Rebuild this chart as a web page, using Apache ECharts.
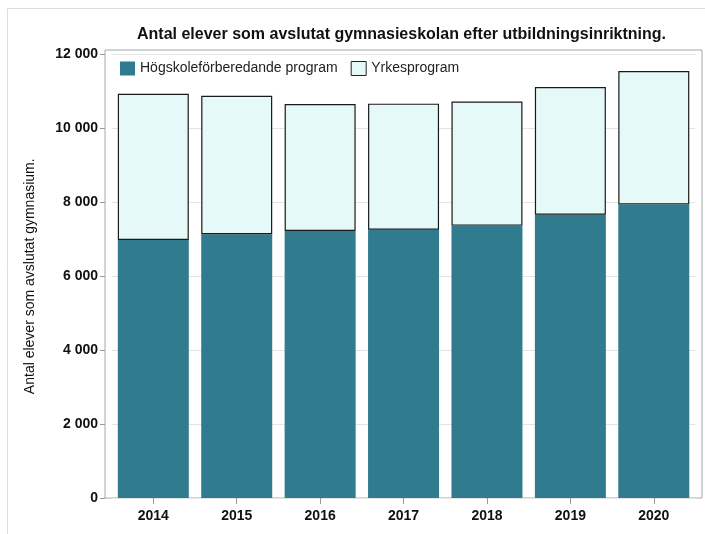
<!DOCTYPE html>
<html>
<head>
<meta charset="utf-8">
<script src="https://cdn.jsdelivr.net/npm/echarts@6/dist/echarts.min.js"></script>
<style>
  html, body { margin: 0; padding: 0; background: #fff; }
  #chart { width: 705px; height: 534px; }
</style>
</head>
<body>
<div id="chart"></div>
<script>
// Elever som avslutat gymnasiet, per år och inriktning
const years = ['2014', '2015', '2016', '2017', '2018', '2019', '2020'];
const hogskole = [6980, 7135, 7225, 7260, 7370, 7665, 7945];
const yrkes = [3960, 3750, 3435, 3410, 3355, 3455, 3610];

const FONT = '"Liberation Sans", Arial, sans-serif';
const fmt = v => String(v).replace(/\B(?=(\d{3})+(?!\d))/g, ' ');

const chart = echarts.init(document.getElementById('chart'));
chart.setOption({
  backgroundColor: '#fff',
  animation: false,
  textStyle: { fontFamily: FONT },
  title: {
    text: 'Antal elever som avslutat gymnasieskolan efter utbildningsinriktning.',
    left: 132, top: 22,
    textStyle: { fontFamily: FONT, fontSize: 16, fontWeight: 'bold', color: '#111' }
  },
  legend: {
    left: 115, top: 56,
    itemWidth: 15, itemHeight: 14, itemGap: 13,
    textStyle: { fontFamily: FONT, fontSize: 14, color: '#222' },
    data: [
      { name: 'Högskoleförberedande program', icon: 'rect' },
      { name: 'Yrkesprogram', icon: 'rect', itemStyle: { borderColor: '#222', borderWidth: 1 } }
    ]
  },
  grid: { left: 111.6, right: 9.5, top: 54.5, bottom: 36 },
  graphic: [
    // ram runt ritytan
    { type: 'rect', z: -1, shape: { x: 105, y: 50, width: 597, height: 448 },
      style: { fill: 'none', stroke: '#a8a8a8', lineWidth: 1 } },
    { type: 'line', shape: { x1: 7.5, y1: 8.5, x2: 705, y2: 8.5 }, style: { stroke: '#ddd', lineWidth: 1 } },
    { type: 'line', shape: { x1: 7.5, y1: 8.5, x2: 7.5, y2: 534 }, style: { stroke: '#ddd', lineWidth: 1 } }
  ],
  xAxis: {
    type: 'category',
    data: years,
    axisLine: { show: false },
    axisTick: { show: true, alignWithLabel: true, length: 6, lineStyle: { color: '#999' } },
    axisLabel: { fontFamily: FONT, fontSize: 14, fontWeight: 'bold', color: '#111', margin: 11 }
  },
  yAxis: {
    type: 'value',
    min: 0, max: 12000, interval: 2000,
    offset: 6.6,
    name: 'Antal elever som avslutat gymnasium.',
    nameLocation: 'middle',
    nameGap: 68,
    nameTextStyle: { fontFamily: FONT, fontSize: 14, color: '#111' },
    axisLine: { show: false },
    axisTick: { show: true, length: 5, lineStyle: { color: '#999' } },
    axisLabel: {
      fontFamily: FONT, fontSize: 14, fontWeight: 'bold', color: '#111', margin: 7,
      formatter: v => fmt(v)
    },
    splitLine: { show: true, lineStyle: { color: '#e4e4e4', width: 1 } }
  },
  series: [
    {
      name: 'Högskoleförberedande program',
      type: 'bar', stack: 'tot', barWidth: 71,
      itemStyle: { color: '#307b8e' },
      data: hogskole
    },
    {
      name: 'Yrkesprogram',
      type: 'bar', stack: 'tot', barWidth: 71,
      itemStyle: { color: '#e6f9f9', borderColor: '#1a1a1a', borderWidth: 1.2 },
      data: yrkes
    }
  ]
});
</script>
</body>
</html>
